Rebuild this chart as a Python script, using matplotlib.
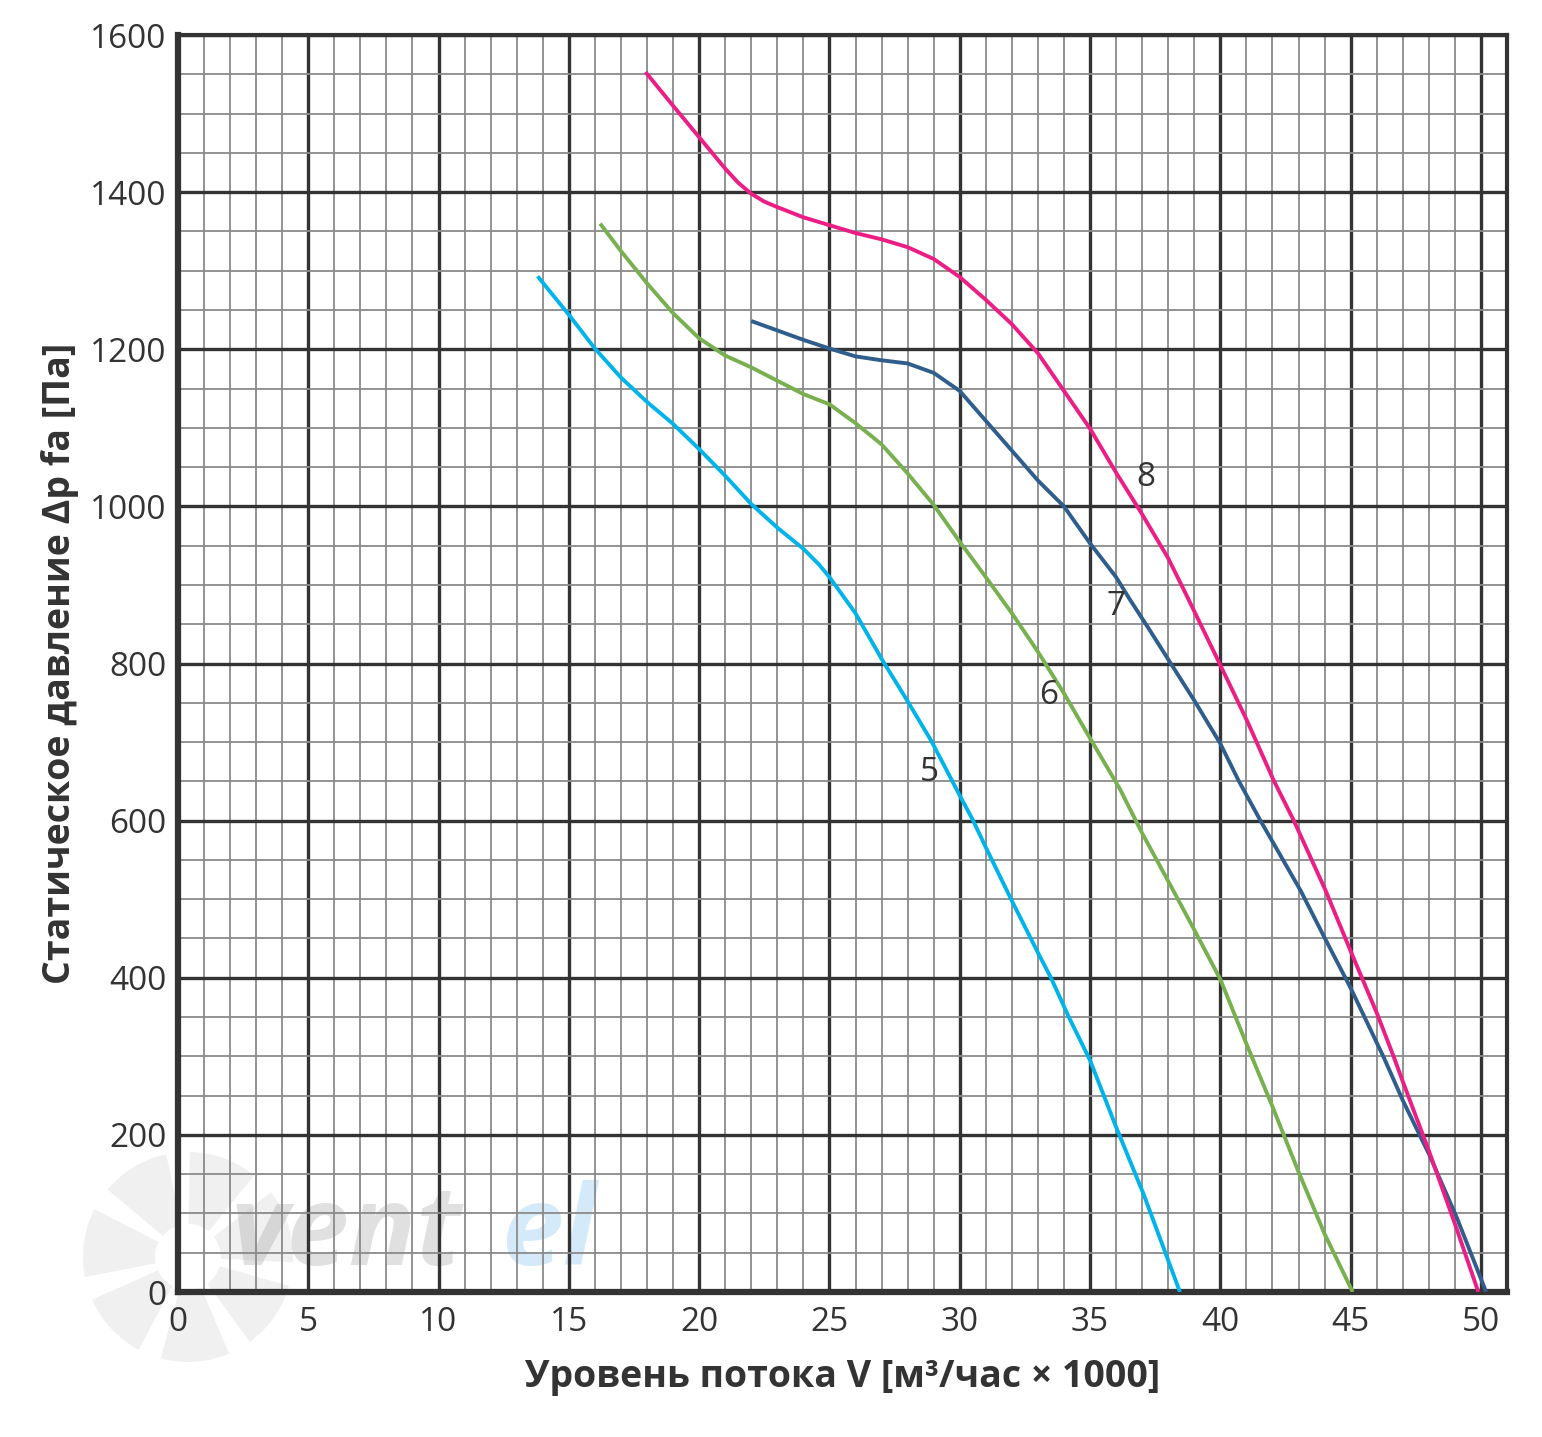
import matplotlib
matplotlib.use("Agg")
import matplotlib.pyplot as plt
from matplotlib.ticker import MultipleLocator
from matplotlib.patches import Wedge

plt.rcParams['font.family'] = ['Open Sans', 'DejaVu Sans']

# fan curves, flow in m3/h x 1000, static pressure in Pa
x5 = [13.8, 15.0, 16.0, 17.0, 18.0, 19.0, 20.0, 21.0, 22.0, 23.0, 24.0, 24.6, 25.0, 26.0, 27.0,
      28.0, 28.9, 29.5, 30.0, 30.5, 31.0, 32.0, 33.0, 33.5, 34.2, 35.0, 36.0, 37.05, 38.45]
y5 = [1293, 1244, 1201, 1164, 1133, 1105, 1073, 1039, 1003, 973, 946, 926, 910, 864, 806,
      752, 702, 664, 632, 601, 566, 498, 432, 400, 349, 295, 210, 125, 0]

x6 = [16.2, 17.0, 18.0, 19.0, 20.0, 21.0, 22.0, 23.0, 24.0, 25.0, 26.0, 27.0, 28.0, 29.0, 30.0,
      31.0, 32.0, 33.0, 34.0, 35.0, 36.15, 37.0, 38.0, 39.0, 40.0, 41.0, 42.0, 43.0, 44.0, 45.08]
y6 = [1360, 1325, 1284, 1246, 1214, 1192, 1177, 1160, 1143, 1130, 1106, 1079, 1042, 1002, 955,
      910, 864, 815, 762, 705, 640, 584, 523, 461, 398, 316, 236, 153, 74, 0]

x7 = [22.0, 23.0, 24.0, 25.0, 26.0, 27.0, 28.0, 29.0, 30.0, 31.0, 32.0, 33.0, 34.0, 35.0, 36.0,
      36.5, 37.3, 38.1, 39.0, 40.0, 40.7, 41.54, 43.08, 44.0, 45.0, 46.28, 47.0, 48.0, 49.07, 50.2]
y7 = [1236, 1224, 1212, 1201, 1191, 1186, 1182, 1170, 1147, 1109, 1071, 1033, 1000, 953, 910,
      883, 842, 800, 753, 698, 651, 600, 511, 451, 387, 298, 244, 176, 95, 0]

x8 = [17.94, 19.0, 20.0, 21.0, 21.5, 22.0, 22.5, 23.0, 24.0, 25.0, 26.0, 27.0, 28.0, 29.0, 30.0,
      31.0, 32.0, 33.0, 34.0, 35.0, 36.0, 37.0, 38.0, 38.7, 40.0, 41.0, 42.05, 42.82, 44.04, 45.0,
      46.03, 46.67, 47.0, 48.0, 49.0, 49.9]
y8 = [1553, 1510, 1470, 1430, 1412, 1398, 1388, 1381, 1368, 1358, 1348, 1340, 1330, 1315, 1292,
      1263, 1232, 1195, 1147, 1099, 1043, 990, 934, 887, 798, 729, 651, 600, 511, 434,
      353, 298, 268, 180, 87, 0]

curve_names = ['5', '6', '7', '8']
label_x = [28.85, 33.4, 36.0, 37.15]
label_y = [661, 759, 872, 1037]
colors = ['#00B4EA', '#78B04F', '#2F5D8C', '#EC1E85']

fig = plt.figure(figsize=(15.42, 14.37), dpi=100)
ax = fig.add_axes([0.1154, 0.1009, 0.8619, 0.8747])
ax.set_facecolor('none')

# faint fan watermark behind the grid (figure inches)
for a in range(0, 360, 51):
    fig.add_artist(Wedge((1.88, 1.80), 1.05, a, a + 38, width=0.72,
                         facecolor='#f0f0f0', edgecolor='none',
                         transform=fig.dpi_scale_trans, zorder=-1))

ax.text(2.0, 35, 'vent', fontsize=80, fontweight='bold', style='italic',
        color='#9a9a9a', alpha=0.3, zorder=0)
ax.text(12.4, 35, 'el', fontsize=80, fontweight='bold', style='italic',
        color='#5aaee6', alpha=0.25, zorder=0)

for xs, ys, c in zip([x5, x6, x7, x8], [y5, y6, y7, y8], colors):
    ax.plot(xs, ys, color=c, lw=2.8, solid_capstyle='butt', solid_joinstyle='round', zorder=3)

for name, lx, ly in zip(curve_names, label_x, label_y):
    ax.text(lx, ly, name, fontsize=24, color='#333333', ha='center', va='center', zorder=4)

ax.set_xlim(0, 51)
ax.set_ylim(0, 1600)
ax.xaxis.set_major_locator(MultipleLocator(5))
ax.xaxis.set_minor_locator(MultipleLocator(1))
ax.yaxis.set_major_locator(MultipleLocator(200))
ax.yaxis.set_minor_locator(MultipleLocator(50))
ax.grid(which='major', color='#333333', lw=2.4, zorder=1)
ax.grid(which='minor', color='#8a8a8a', lw=1.3, zorder=1)
ax.set_axisbelow(True)
ax.tick_params(which='both', length=0)
ax.tick_params(axis='both', labelsize=24, labelcolor='#333333')
ax.tick_params(axis='x', pad=10)
ax.tick_params(axis='y', pad=8)

for side in ['left', 'bottom']:
    ax.spines[side].set_linewidth(4.5)
    ax.spines[side].set_color('#333333')
for side in ['top', 'right']:
    ax.spines[side].set_linewidth(3)
    ax.spines[side].set_color('#333333')

ax.set_xlabel('Уровень потока V [м³/час × 1000]', fontsize=27, fontweight='bold',
              color='#333333', labelpad=14)
ax.set_ylabel('Статическое давление Δp fa [Па]', fontsize=27, fontweight='bold',
              color='#333333', labelpad=8)

fig.savefig('out.png', dpi=100, facecolor='white')
